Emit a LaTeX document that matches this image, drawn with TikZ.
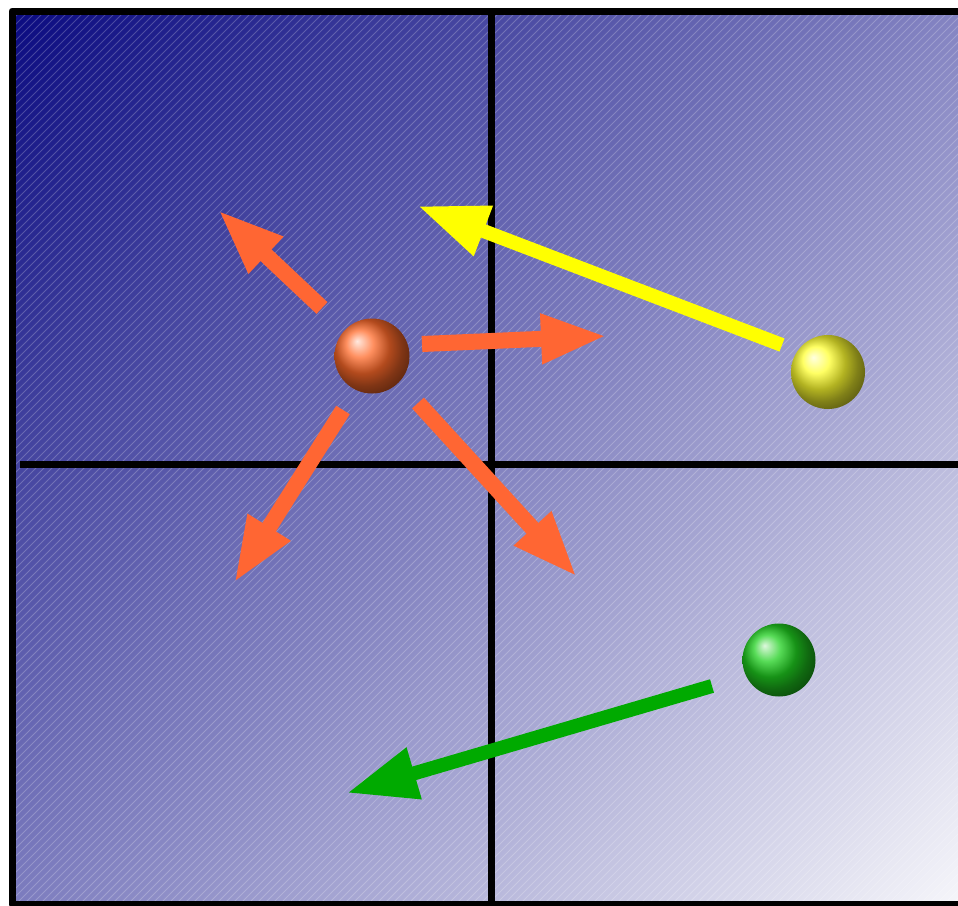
\documentclass[tikz,border=0pt]{standalone}
\usetikzlibrary{arrows.meta,shadings}
\definecolor{navyTL}{HTML}{0A0A80}
\definecolor{midTR}{HTML}{8484C2}
\definecolor{midBL}{HTML}{7C7CBE}
\definecolor{paleBR}{HTML}{F6F6FA}
\definecolor{arrOrange}{HTML}{FF6633}
\definecolor{arrYellow}{HTML}{FFFF00}
\definecolor{arrGreen}{HTML}{00AA00}
\definecolor{ballRed}{HTML}{FF6A2A}
\definecolor{ballYellow}{HTML}{FFFF30}
\definecolor{ballGreen}{HTML}{20D020}
\tikzset{
  gridline/.style={line width=7pt, black},
  ballnode/.style={circle, inner sep=0pt, minimum size=#1},
  orangearrow/.style={line width=16pt, arrOrange, -{Triangle[length=66pt,width=46pt]}},
  yellowarrow/.style={line width=14pt, arrYellow, -{Triangle[length=70pt,width=50pt]}},
  greenarrow/.style={line width=14pt, arrGreen, -{Triangle[length=70pt,width=50pt]}},
  hatch/.style={white, opacity=0.22, line width=1pt}
}
\begin{document}
\begin{tikzpicture}[x=1pt,y=-1pt]
\useasboundingbox (0,0) rectangle (958,905);
% background
\shade[upper left=navyTL, upper right=midTR, lower left=midBL, lower right=paleBR]
  (12,11) rectangle (962,904);
\begin{scope}
  \clip (12,11) rectangle (962,904);
  \foreach \i in {-904,-896,...,960} {
    \draw[hatch] (\i,904) -- ++(900,-900);
  }
\end{scope}
% frame and grid
\draw[gridline, line join=round] (12,11) rectangle (962,904);
\coordinate (hL) at (20,464.5);
\coordinate (hR) at (962,464.5);
\coordinate (vT) at (491,11);
\coordinate (vB) at (491,906);
\draw[gridline] (hL) -- (hR);
\draw[gridline] (vT) -- (vB);
% balls
\node[ballnode=75pt, shading=ball, ball color=ballRed] (red) at (372,356) {};
\node[ballnode=74pt, shading=ball, ball color=ballYellow] (yellow) at (828,372) {};
\node[ballnode=73pt, shading=ball, ball color=ballGreen] (green) at (779,660) {};
% arrow end points
\coordinate (r1s) at (322,308);
\coordinate (r1e) at (218,210);
\coordinate (r2s) at (422,344);
\coordinate (r2e) at (607,336);
\coordinate (r3s) at (343,410);
\coordinate (r3e) at (234,583);
\coordinate (r4s) at (418,403);
\coordinate (r4e) at (577,577);
\coordinate (ys) at (782,345);
\coordinate (ye) at (418,206);
\coordinate (gs) at (712,686);
\coordinate (ge) at (347,793);
\draw[orangearrow] (r1s) -- (r1e);
\draw[orangearrow] (r2s) -- (r2e);
\draw[orangearrow] (r3s) -- (r3e);
\draw[orangearrow] (r4s) -- (r4e);
\draw[yellowarrow] (ys) -- (ye);
\draw[greenarrow] (gs) -- (ge);
\end{tikzpicture}
\end{document}
